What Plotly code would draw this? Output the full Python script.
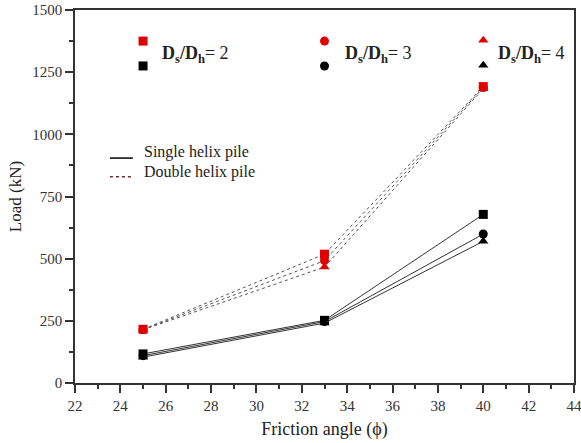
import plotly.graph_objects as go

# Friction angle (degrees)
phi = [25, 33, 40]

# Ultimate load (kN) for each spacing ratio Ds/Dh
single_2 = [117, 252, 678]
single_3 = [110, 247, 599]
single_4 = [104, 241, 570]
double_2 = [216, 518, 1192]
double_3 = [215, 492, 1188]
double_4 = [214, 466, 1184]

ratios = ["2", "3", "4"]
symbols = ["square", "circle", "triangle-up"]

# Key markers placed inside the plot area
key_x = [25, 33, 40]
key_red_y = [1375, 1375, 1378]
key_black_y = [1275, 1275, 1278]

FONT = "Liberation Serif, Times New Roman, serif"

fig = go.Figure()

for ys, sym in zip([double_2, double_3, double_4], symbols):
    fig.add_trace(go.Scatter(
        x=phi, y=ys, mode="lines+markers",
        line=dict(color="#555555", width=1, dash="dot"),
        marker=dict(symbol=sym, size=9, color="#e00000"),
        showlegend=False,
    ))

for ys, sym in zip([single_2, single_3, single_4], symbols):
    fig.add_trace(go.Scatter(
        x=phi, y=ys, mode="lines+markers",
        line=dict(color="#333333", width=1),
        marker=dict(symbol=sym, size=9, color="black"),
        showlegend=False,
    ))

# Ratio key: red/black marker pair beside each label
for kx, ry, by, sym in zip(key_x, key_red_y, key_black_y, symbols):
    fig.add_trace(go.Scatter(x=[kx], y=[ry], mode="markers",
                             marker=dict(symbol=sym, size=9, color="#e00000"),
                             showlegend=False))
    fig.add_trace(go.Scatter(x=[kx], y=[by], mode="markers",
                             marker=dict(symbol=sym, size=9, color="black"),
                             showlegend=False))

label_x = [25.75, 33.8, 40.55]
for lx, r in zip(label_x, ratios):
    fig.add_annotation(
        x=lx, y=1322, xref="x", yref="y", xanchor="left", yanchor="middle",
        text="<b>D<sub>s</sub>/D<sub>h</sub></b>= " + r,
        showarrow=False, font=dict(family=FONT, size=18, color="#222222"),
    )

# Line-style key
fig.add_shape(type="line", xref="paper", yref="paper",
              x0=0.07, x1=0.116, y0=0.603, y1=0.603,
              line=dict(color="black", width=1.5))
fig.add_shape(type="line", xref="paper", yref="paper",
              x0=0.07, x1=0.116, y0=0.553, y1=0.553,
              line=dict(color="#7a2a2a", width=1.5, dash="dot"))
fig.add_annotation(x=0.134, y=0.618, xref="paper", yref="paper",
                   xanchor="left", yanchor="middle", text="Single helix pile",
                   showarrow=False, font=dict(family=FONT, size=16, color="#222222"))
fig.add_annotation(x=0.134, y=0.565, xref="paper", yref="paper",
                   xanchor="left", yanchor="middle", text="Double helix pile",
                   showarrow=False, font=dict(family=FONT, size=16, color="#222222"))

axis_common = dict(
    showline=True, linecolor="#333333", linewidth=1.5, mirror=True,
    ticks="outside", ticklen=8, tickwidth=1.5, tickcolor="#333333",
    showgrid=False, zeroline=False, automargin=False,
    ticklabeloverflow="allow",
    tickfont=dict(family=FONT, size=15, color="#333333"),
)

fig.update_xaxes(
    range=[22, 44], dtick=2, tick0=22,
    minor=dict(dtick=1, ticks="outside", ticklen=4, tickwidth=1.5, tickcolor="#333333"),
    title=dict(text="Friction angle (ϕ)", font=dict(family=FONT, size=18, color="#222222"),
               standoff=10),
    **axis_common,
)
fig.update_yaxes(
    range=[0, 1500], dtick=250, tick0=0,
    minor=dict(dtick=125, ticks="outside", ticklen=4, tickwidth=1.5, tickcolor="#333333"),
    title=dict(text="Load (kN)", font=dict(family=FONT, size=17, color="#222222"),
               standoff=6),
    **axis_common,
)

fig.update_layout(
    width=581, height=443,
    margin=dict(l=75, r=7, t=10, b=60),
    paper_bgcolor="white", plot_bgcolor="white",
)

fig.write_html("out.html")
